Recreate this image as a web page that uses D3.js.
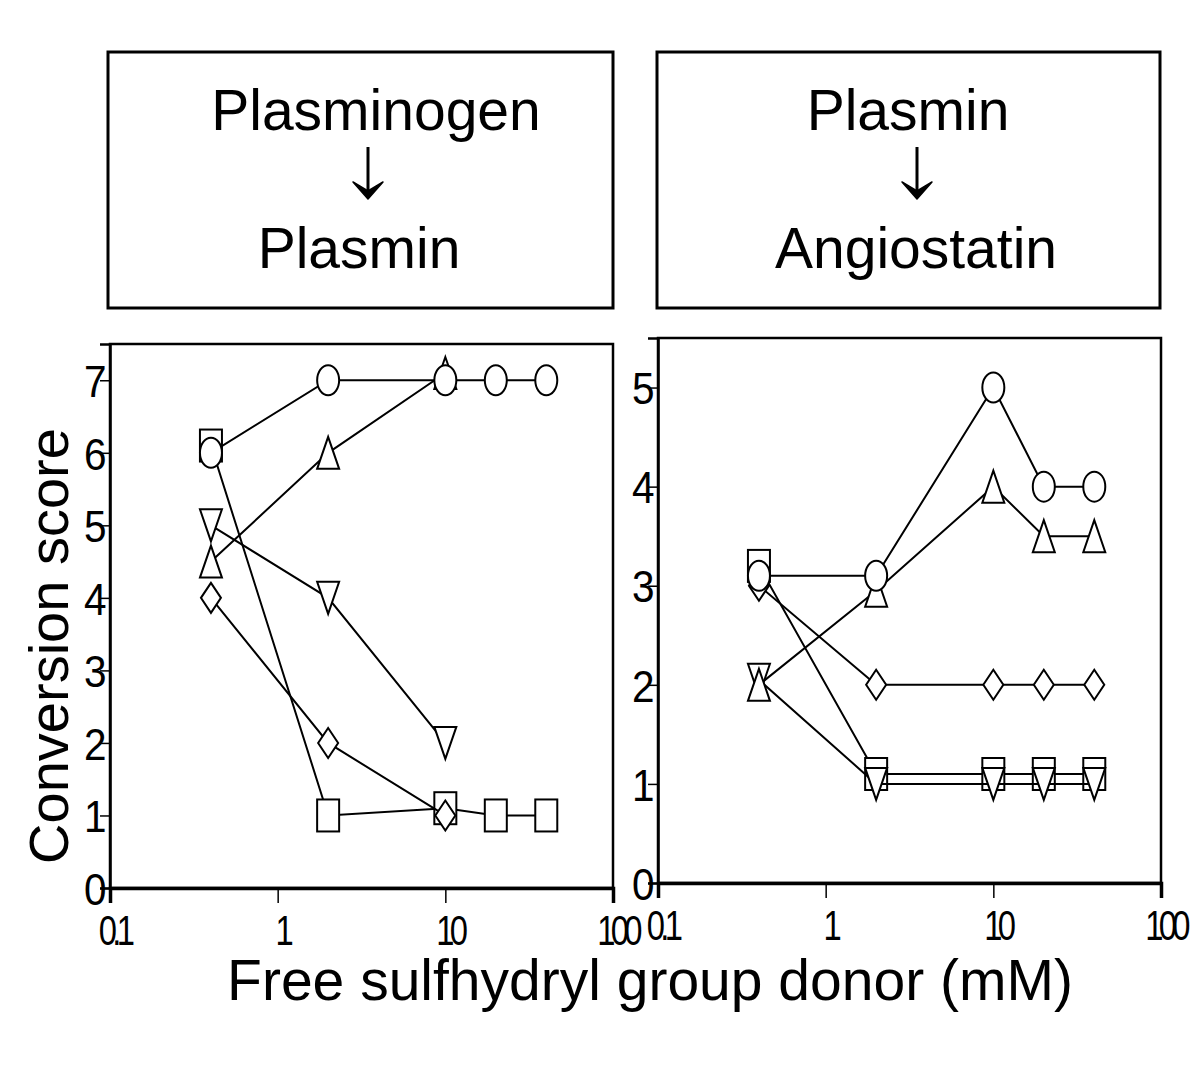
<!DOCTYPE html>
<html>
<head>
<meta charset="utf-8">
<script src="https://cdn.jsdelivr.net/npm/d3@7"></script>
<style>
  body { margin: 0; background: #fff; }
  text { font-family: "Liberation Sans", Arial, sans-serif; fill: #000; }
</style>
</head>
<body>
<svg id="chart" width="1200" height="1066"></svg>
<script>
// doses (mM)
const xDose = [0.4, 2, 10, 20, 40];
const xTicks = [0.1, 1, 10, 100];
const xTickLabels = ["0.1", "1", "10", "100"];

// left: plasminogen -> plasmin
const leftCircle = [6, 7, 7, 7, 7];
const leftSquare = [6.1, 1, 1.1, 1, 1];
const leftTriUp = [4.5, 6, 7.1];
const leftTriDown = [5, 4, 2];
const leftDiamond = [4, 2, 1];
const leftYTicks = [0, 1, 2, 3, 4, 5, 6, 7];

// right: plasmin -> angiostatin
const rightCircle = [3.1, 3.1, 5, 4, 4];
const rightSquare = [3.2, 1.1, 1.1, 1.1, 1.1];
const rightTriUp = [2, 2.95, 4, 3.5, 3.5];
const rightTriDown = [2.05, 1, 1, 1, 1];
const rightDiamond = [3, 2, 2, 2, 2];
const rightYTicks = [0, 1, 2, 3, 4, 5];

const boxTitles = [["Plasminogen", "Plasmin"], ["Plasmin", "Angiostatin"]];

let svg = d3.select("#chart");
svg.append("rect").attr("width", 1200).attr("height", 1066).attr("fill", "#fff");

// marker shapes (a bit taller than wide, like the original)
function marker(g, shape, x, y) {
    let w = 11, h = 16;
    let s;
    if (shape === "circle") {
        s = g.append("ellipse").attr("cx", x).attr("cy", y).attr("rx", w).attr("ry", 15);
    } else if (shape === "square") {
        s = g.append("rect").attr("x", x - w).attr("y", y - h).attr("width", 2 * w).attr("height", 2 * h);
    } else if (shape === "up") {
        s = g.append("path").attr("d", `M${x},${y - h}L${x + w},${y + h}L${x - w},${y + h}Z`);
    } else if (shape === "down") {
        s = g.append("path").attr("d", `M${x - w},${y - h}L${x + w},${y - h}L${x},${y + h}Z`);
    } else {
        s = g.append("path").attr("d", `M${x},${y - 15}L${x + 10},${y}L${x},${y + 15}L${x - 10},${y}Z`);
    }
    s.attr("fill", "#fff").attr("stroke", "#000").attr("stroke-width", 2);
}

function panel(p) {
    let scaleX = d3.scaleLog().domain([0.1, 100]).range([p.x0, p.x1]);
    let scaleY = d3.scaleLinear().domain([0, p.ymax]).range([p.y1, p.y0]);

    // frame
    svg.append("rect")
        .attr("x", p.x0).attr("y", p.y0)
        .attr("width", p.x1 - p.x0).attr("height", p.y1 - p.y0)
        .attr("fill", "none").attr("stroke", "#000").attr("stroke-width", 2.5);

    let axisX = d3.axisBottom(scaleX)
        .tickValues(xTicks)
        .tickSize(15)
        .tickPadding(12)
        .tickFormat((d, i) => xTickLabels[i]);
    let gx = svg.append("g")
        .attr("transform", `translate(0, ${p.y1})`)
        .call(axisX);
    gx.select(".domain").attr("stroke-width", 3.5);
    gx.selectAll(".tick line").attr("stroke-width", 1.5);
    gx.selectAll("text")
        .attr("font-size", 42)
        .attr("font-family", "Liberation Sans, Arial, sans-serif")
        .attr("letter-spacing", -6)
        .attr("transform", "translate(4,0) scale(0.78,1)");

    let axisY = d3.axisLeft(scaleY)
        .tickValues(p.yTicks)
        .tickSize(10)
        .tickPadding(-6)
        .tickFormat(d3.format("d"));
    let gy = svg.append("g")
        .attr("transform", `translate(${p.x0}, 0)`)
        .call(axisY);
    gy.select(".domain").attr("stroke-width", 2.5);
    gy.selectAll(".tick line").attr("stroke-width", 1.5);
    gy.selectAll("text")
        .attr("font-size", 45)
        .attr("font-family", "Liberation Sans, Arial, sans-serif")
        .attr("dy", "0.36em")
        .attr("transform", "scale(0.9,1)");

    let lineF = d3.line()
        .x(d => scaleX(d.x))
        .y(d => scaleY(d.y));

    let g = svg.append("g");
    p.series.forEach(s => {
        let pts = s.values.map((v, i) => ({x: xDose[i], y: v}));
        g.append("path")
            .datum(pts)
            .attr("d", lineF)
            .attr("fill", "none")
            .attr("stroke", "#000")
            .attr("stroke-width", 2);
        pts.forEach(d => marker(g, s.shape, scaleX(d.x), scaleY(d.y)));
    });
}

panel({
    x0: 110, x1: 613, y0: 344, y1: 888, ymax: 7.5, yTicks: leftYTicks,
    series: [
        {shape: "square", values: leftSquare},
        {shape: "diamond", values: leftDiamond},
        {shape: "down", values: leftTriDown},
        {shape: "up", values: leftTriUp},
        {shape: "circle", values: leftCircle}
    ]
});

panel({
    x0: 658, x1: 1161, y0: 338, y1: 883, ymax: 5.5, yTicks: rightYTicks,
    series: [
        {shape: "square", values: rightSquare},
        {shape: "diamond", values: rightDiamond},
        {shape: "down", values: rightTriDown},
        {shape: "up", values: rightTriUp},
        {shape: "circle", values: rightCircle}
    ]
});

// title boxes
let boxes = [
    {x: 108, w: 505, top: 376, arrow: 368, bottom: 359},
    {x: 657, w: 503, top: 908, arrow: 917, bottom: 916}
];
boxes.forEach((b, i) => {
    svg.append("rect")
        .attr("x", b.x).attr("y", 52)
        .attr("width", b.w).attr("height", 256)
        .attr("fill", "none").attr("stroke", "#000").attr("stroke-width", 3);
    svg.append("text").attr("x", b.top).attr("y", 130)
        .attr("text-anchor", "middle").attr("font-size", 57)
        .text(boxTitles[i][0]);
    // arrow
    svg.append("line")
        .attr("x1", b.arrow).attr("x2", b.arrow)
        .attr("y1", 147).attr("y2", 193)
        .attr("stroke", "#000").attr("stroke-width", 3);
    svg.append("path")
        .attr("d", `M${b.arrow - 15},${182}L${b.arrow},${199}L${b.arrow + 15},${182}L${b.arrow},${191}Z`)
        .attr("fill", "#000").attr("stroke", "#000").attr("stroke-width", 1.5)
        .attr("stroke-linejoin", "round");
    svg.append("text").attr("x", b.bottom).attr("y", 268)
        .attr("text-anchor", "middle").attr("font-size", 57)
        .text(boxTitles[i][1]);
});

// axis titles
svg.append("text")
    .attr("transform", "translate(68, 646) rotate(-90)")
    .attr("text-anchor", "middle")
    .attr("font-size", 56)
    .text("Conversion score");

svg.append("text")
    .attr("x", 650).attr("y", 1000)
    .attr("text-anchor", "middle")
    .attr("font-size", 57)
    .text("Free sulfhydryl group donor (mM)");
</script>
</body>
</html>
